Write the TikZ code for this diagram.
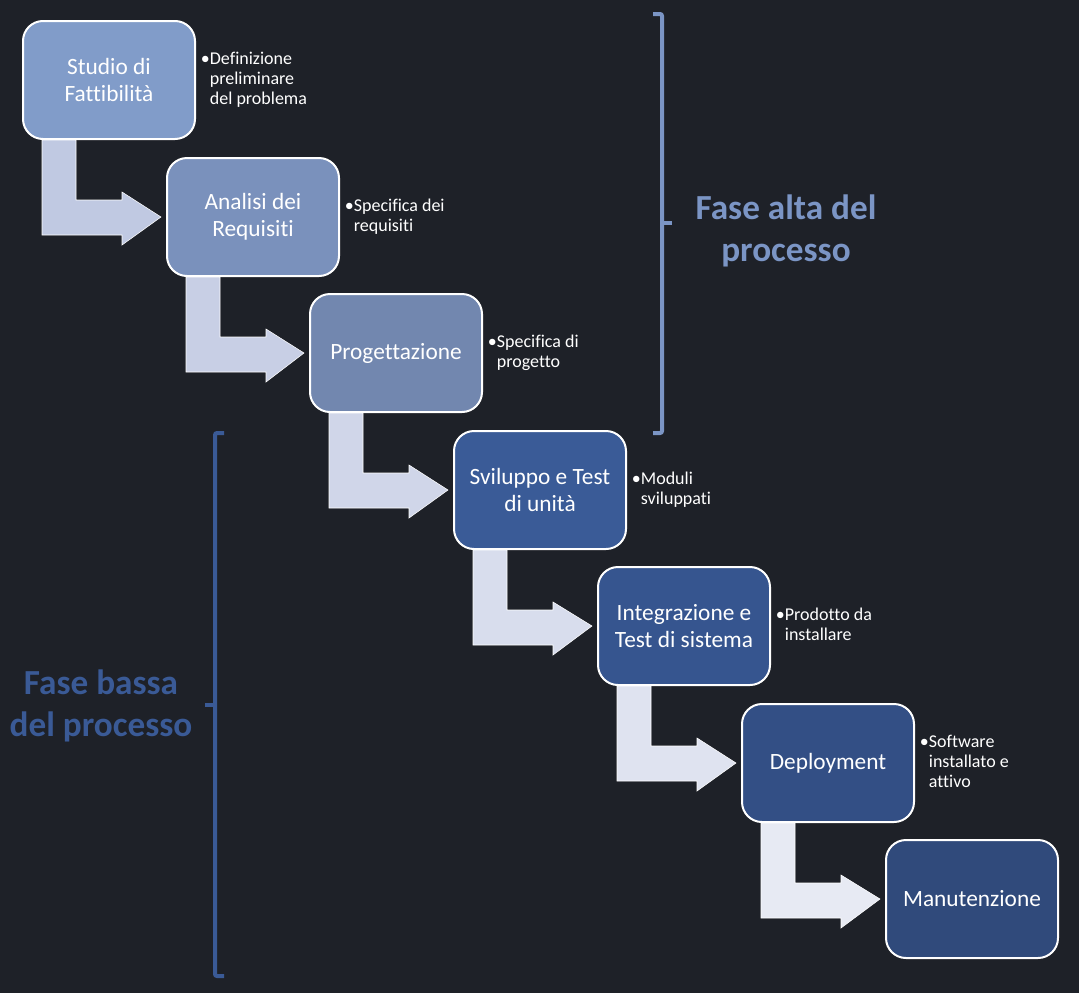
\documentclass[tikz,border=0pt]{standalone}
\usepackage{fontspec}
\setmainfont{Carlito}[Ligatures=NoCommon]
\usetikzlibrary{positioning,calc}
\definecolor{bg}{HTML}{1E2128}
\definecolor{c1}{HTML}{819CC9}
\definecolor{c2}{HTML}{7A91BC}
\definecolor{c3}{HTML}{7287AF}
\definecolor{c4}{HTML}{3A5B97}
\definecolor{c5}{HTML}{36558F}
\definecolor{c6}{HTML}{334F85}
\definecolor{c7}{HTML}{304A7B}
\definecolor{a1}{HTML}{C0C9E2}
\definecolor{a2}{HTML}{C8CFE5}
\definecolor{a3}{HTML}{D0D6E9}
\definecolor{a4}{HTML}{D8DDED}
\definecolor{a5}{HTML}{DFE3F0}
\definecolor{a6}{HTML}{E7EAF3}
\definecolor{hi}{HTML}{7B95C5}
\definecolor{lo}{HTML}{3A5A96}
\newcommand\notetext[1]{\begin{tabular}{@{}l@{}l@{}}\textbullet&#1\end{tabular}}
\begin{document}
\begin{tikzpicture} [
                x=0.75pt, y=-0.75pt,
                phase/.style={rectangle,rounded corners=15pt,draw=white,line width=1.5pt,
                    minimum width=129pt,minimum height=88.5pt,text=white,align=center,
                    font=\fontsize{17.5}{20.25}\selectfont},
                note/.style={inner sep=0pt,text=white,font=\fontsize{13.5}{15}\selectfont},
                flow/.style={draw=white,line width=0.4pt},
                bracket/.style={line width=3pt,rounded corners=1.5pt},
                stage/.style={align=center,font=\bfseries\fontsize{26.4}{31.5}\selectfont},
            ]
            \fill[bg] (0,0) rectangle (1079,993);
            \useasboundingbox (0,0) rectangle (1079,993);
            \foreach \pos/\name/\col/\txt in {
            {(109,80)/s1/c1/{Studio di\\Fattibilità}},
            {(253,217)/s2/c2/{Analisi dei\\Requisiti}},
            {(396,353)/s3/c3/{Progettazione}},
            {(540,490)/s4/c4/{Sviluppo e Test\\di unità}},
            {(684,626)/s5/c5/{Integrazione e\\Test di sistema}},
            {(828,763)/s6/c6/{Deployment}},
            {(972,899)/s7/c7/{Manutenzione}}}
                \node[phase,fill=\col] (\name) at \pos {\txt};
            \foreach \name/\txt in {
                    s1/{Definizione\\&preliminare\\&del problema},
                    s2/{Specifica dei\\&requisiti},
                    s3/{Specifica di\\&progetto},
                    s4/{Moduli\\&sviluppati},
                    s5/{Prodotto da\\&installare},
                    s6/{Software\\&installato e\\&attivo}}
                \node[note,right=3.5pt of \name] (n\name) {\notetext{\txt}};
            \foreach \a/\b/\col in {
                    s1/s2/a1,s2/s3/a2,s3/s4/a3,s4/s5/a4,s5/s6/a5,s6/s7/a6}
                \path[flow,fill=\col] ($(\a.south west)+(20,0)$) -- ++(34,0) -- ++(0,60)
                    -- ++(46,0) -- ++(0,-8) -- ($(\b.west)+(-5,0)$)
                    -- ($(\a.south west)+(100,105)$) -- ++(0,-10) -- ++(-80,0) -- cycle;
            \draw[bracket,hi] (653,14) -- (662,14) -- (662,433) -- (653,433);
            \draw[bracket,hi] (662,223) -- (672,223);
            \draw[bracket,lo] (224,433) -- (215,433) -- (215,976) -- (224,976);
            \draw[bracket,lo] (215,705) -- (205,705);
            \node[stage,text=hi] (alta) at (786,231) {Fase alta del\\processo};
            \node[stage,text=lo] (bassa) at (101,706) {Fase bassa\\del processo};
        \end{tikzpicture}
\end{document}
